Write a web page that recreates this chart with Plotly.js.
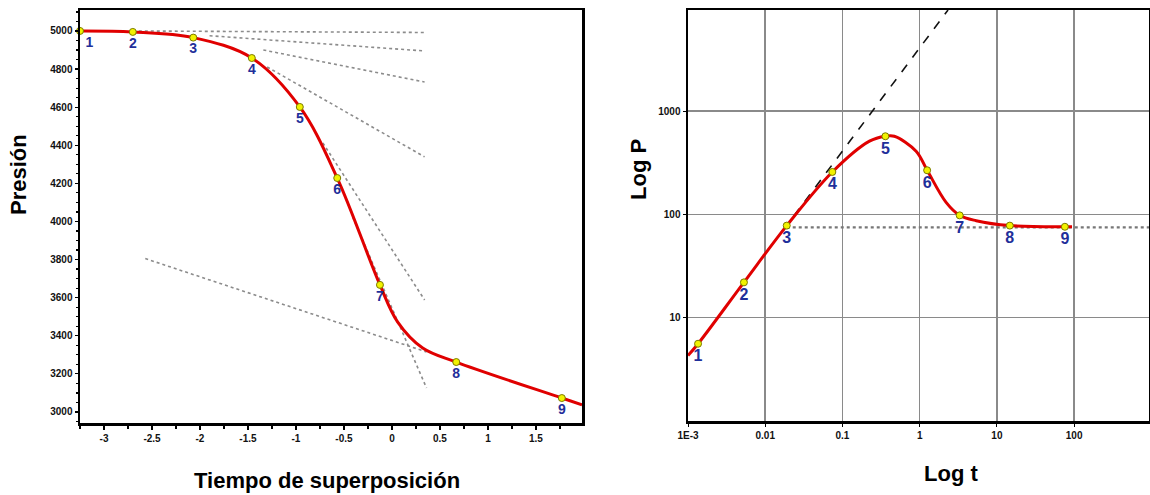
<!DOCTYPE html>
<html>
<head>
<meta charset="utf-8">
<script src="https://cdn.plot.ly/plotly-3.0.1.min.js"></script>
<style>html,body{margin:0;padding:0;background:#fff;}#chart{width:1150px;height:495px;}</style>
</head>
<body>
<div id="chart"></div>
<script>
// ---------- Left chart: Presión vs Tiempo de superposición ----------
const leftPointLabels = ['1','2','3','4','5','6','7','8','9'];
const leftPointX = [-3.25, -2.70, -2.07, -1.46, -0.96, -0.57, -0.125, 0.67, 1.77];
const leftPointY = [5000, 4995, 4965, 4858, 4601, 4228, 3667, 3262, 3073];
const leftCurveX = [-3.25, -2.70, -2.07, -1.46, -0.96, -0.57, -0.125, 0.06, 0.32, 0.67, 1.77, 1.98];
const leftCurveY = [5000, 4995, 4965, 4858, 4601, 4228, 3667, 3472, 3336, 3262, 3073, 3037];
// tangent (dotted) lines: [x0, y0, x1, y1]
const leftTangents = [
  [-2.70, 5000, 0.34, 4992],
  [-1.90, 4975, 0.34, 4895],
  [-1.34, 4900, 0.34, 4732],
  [-1.30, 4811, 0.34, 4339],
  [-0.72, 4412, 0.34, 3588],
  [-0.41, 4024, 0.36, 3126],
  [-2.57, 3805, 0.36, 3315]
];
const leftXTicks = [-3, -2.5, -2, -1.5, -1, -0.5, 0, 0.5, 1, 1.5];
const leftYTicks = [3000, 3200, 3400, 3600, 3800, 4000, 4200, 4400, 4600, 4800, 5000];

// ---------- Right chart: Log P vs Log t ----------
const rightPointLabels = ['1','2','3','4','5','6','7','8','9'];
const rightPointT = [0.00135, 0.0053, 0.019, 0.074, 0.36, 1.25, 3.3, 14.7, 76];
const rightPointP = [5.6, 22, 78, 258, 572, 268, 98, 78, 76];
const rightCurveT = [0.001, 0.00135, 0.0053, 0.019, 0.074, 0.224, 0.36, 0.47, 0.90, 1.25, 2.2, 3.3, 5.4, 14.7, 76, 94];
const rightCurveP = [4.3, 5.6, 22, 78, 258, 513, 572, 572, 410, 268, 131, 98, 87, 78, 76, 76];
const unitSlopeT = [0.017, 2.33];
const unitSlopeP = [70, 9550];
const plateauT = [0.019, 933];
const plateauP = [75, 75];
const rightXTickVals = [0.001, 0.01, 0.1, 1, 10, 100];
const rightXTickText = ['1E-3', '0.01', '0.1', '1', '10', '100'];
const rightYTickVals = [10, 100, 1000];
const rightYTickText = ['10', '100', '1000'];

const FONT = 'Liberation Sans, Arial, sans-serif';
const LABEL_BLUE = '#1f2f9a';
const traces = [];

leftTangents.forEach(s => {
  traces.push({x: [s[0], s[2]], y: [s[1], s[3]], xaxis: 'x', yaxis: 'y', mode: 'lines',
    line: {color: '#8c8c8c', width: 1.6, dash: 'dot'}, hoverinfo: 'skip', showlegend: false});
});
traces.push({x: leftCurveX, y: leftCurveY, xaxis: 'x', yaxis: 'y', mode: 'lines',
  line: {color: '#e00000', width: 3, shape: 'spline', smoothing: 1}, showlegend: false, cliponaxis: false});
traces.push({x: leftPointX, y: leftPointY, xaxis: 'x', yaxis: 'y', mode: 'markers+text',
  text: leftPointLabels,
  textposition: leftPointLabels.map((_, i) => i === 0 ? 'bottom right' : 'bottom center'),
  textfont: {family: FONT, size: 14, color: LABEL_BLUE, weight: 'bold'},
  marker: {color: '#f2f200', size: 7, line: {color: '#7a7a00', width: 1}},
  showlegend: false, cliponaxis: false});

traces.push({x: plateauT, y: plateauP, xaxis: 'x2', yaxis: 'y2', mode: 'lines',
  line: {color: '#777777', width: 2.2, dash: 'dot'}, showlegend: false});
traces.push({x: unitSlopeT, y: unitSlopeP, xaxis: 'x2', yaxis: 'y2', mode: 'lines',
  line: {color: '#111111', width: 1.6, dash: 'dash'}, showlegend: false});
traces.push({x: rightCurveT, y: rightCurveP, xaxis: 'x2', yaxis: 'y2', mode: 'lines',
  line: {color: '#e00000', width: 3, shape: 'spline', smoothing: 1}, showlegend: false});
traces.push({x: rightPointT, y: rightPointP, xaxis: 'x2', yaxis: 'y2', mode: 'markers+text',
  text: rightPointLabels, textposition: 'bottom center',
  textfont: {family: FONT, size: 16, color: LABEL_BLUE, weight: 'bold'},
  marker: {color: '#f2f200', size: 7, line: {color: '#7a7a00', width: 1}},
  showlegend: false, cliponaxis: false});

const tickFont = {family: FONT, size: 10, color: '#111', weight: 'bold'};
const W = 1150, H = 495;
const titleFont = {family: FONT, size: 22, color: '#000', weight: 'bold'};
const layout = {
  width: W, height: H,
  margin: {l: 0, r: 0, t: 0, b: 0},
  paper_bgcolor: '#fff', plot_bgcolor: '#fff',
  showlegend: false,
  xaxis: {domain: [80 / W, 582 / W], anchor: 'y', range: [-3.25, 1.98],
    tickvals: leftXTicks, ticktext: leftXTicks.map(String), tickfont: tickFont,
    showgrid: false, zeroline: false, showline: true, linecolor: '#000', linewidth: 2.5, mirror: true,
    ticks: 'outside', ticklen: 4, tickwidth: 1.2, tickcolor: '#000',
    minor: {dtick: 0.25, tick0: 0, ticks: 'outside', ticklen: 3, tickcolor: '#000', showgrid: false}},
  yaxis: {domain: [1 - 423 / H, 1 - 10 / H], anchor: 'x', range: [2942, 5110],
    tickvals: leftYTicks, ticktext: leftYTicks.map(String), tickfont: tickFont,
    showgrid: false, zeroline: false, showline: true, linecolor: '#000', linewidth: 2.5, mirror: true,
    ticks: 'outside', ticklen: 3, tickwidth: 1.2, tickcolor: '#000',
    minor: {dtick: 50, tick0: 0, ticks: 'outside', ticklen: 2, tickcolor: '#000', showgrid: false}},
  xaxis2: {domain: [688 / W, 1149 / W], anchor: 'y2', type: 'log', range: [-3, 2.97],
    tickvals: rightXTickVals, ticktext: rightXTickText, tickfont: tickFont,
    showgrid: true, gridcolor: '#8a8a8a', gridwidth: 1.5, zeroline: false,
    showline: true, linecolor: '#000', linewidth: 2.5, mirror: true,
    ticks: 'outside', ticklen: 3, tickcolor: '#000'},
  yaxis2: {domain: [1 - 421 / H, 1 - 10 / H], anchor: 'x2', type: 'log', range: [0, 3.98],
    tickvals: rightYTickVals, ticktext: rightYTickText, tickfont: tickFont,
    showgrid: true, gridcolor: '#8a8a8a', gridwidth: 1.5, zeroline: false,
    showline: true, linecolor: '#000', linewidth: 2.5, mirror: true,
    ticks: 'outside', ticklen: 3, tickcolor: '#000'},
  annotations: [
    {text: 'Presión', xref: 'paper', yref: 'paper', x: 18 / W, y: 1 - 175 / H, textangle: -90,
      xanchor: 'center', yanchor: 'middle', showarrow: false, font: titleFont},
    {text: 'Tiempo de superposición', xref: 'paper', yref: 'paper', x: 327 / W, y: 1 - 480 / H,
      xanchor: 'center', yanchor: 'middle', showarrow: false, font: titleFont},
    {text: 'Log P', xref: 'paper', yref: 'paper', x: 638 / W, y: 1 - 170 / H, textangle: -90,
      xanchor: 'center', yanchor: 'middle', showarrow: false, font: titleFont},
    {text: 'Log t', xref: 'paper', yref: 'paper', x: 951 / W, y: 1 - 473 / H,
      xanchor: 'center', yanchor: 'middle', showarrow: false, font: titleFont}
  ]
};
Plotly.newPlot('chart', traces, layout, {displayModeBar: false, staticPlot: true});
</script>
</body>
</html>
